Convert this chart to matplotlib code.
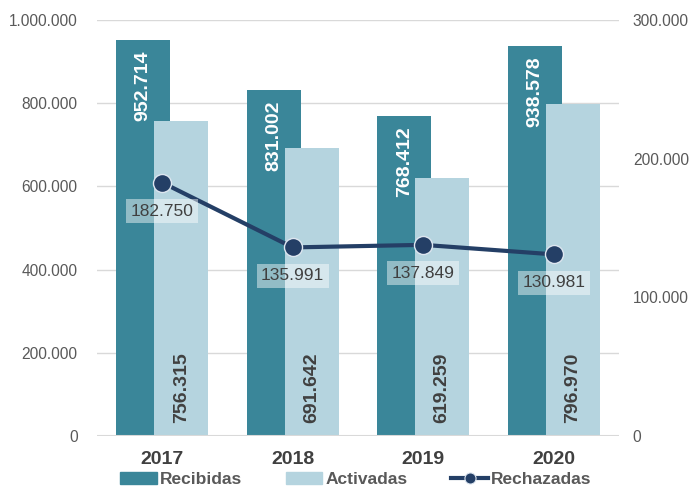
import matplotlib.pyplot as plt
from matplotlib.lines import Line2D
from matplotlib.patches import Patch
import numpy as np

plt.rcParams['font.family'] = ['Liberation Sans', 'DejaVu Sans']

# DATA
years = ['2017', '2018', '2019', '2020']
recibidas = [952714, 831002, 768412, 938578]
activadas = [756315, 691642, 619259, 796970]
rechazadas = [182750, 135991, 137849, 130981]

left_ticks = [0, 200000, 400000, 600000, 800000, 1000000]
right_ticks = [0, 100000, 200000, 300000]

c_dark = '#3A8699'
c_light = '#B5D4DF'
c_line = '#243F66'
c_text = '#595959'


def fmt(v):
    return f'{v:,}'.replace(',', '.')


fig = plt.figure(figsize=(6.94, 4.90), dpi=100)
ax = fig.add_axes([0.1398, 0.1102, 0.752, 0.849])
ax2 = ax.twinx()

x = np.arange(len(years))
w = 0.413
off = 0.145

# grid
for t in left_ticks:
    ax.axhline(t, color='#D9D9D9', lw=1, zorder=0)

ax.bar(x - off, recibidas, w, color=c_dark, zorder=2)
ax.bar(x + off, activadas, w, color=c_light, zorder=3)

for xi, v in zip(x, recibidas):
    ax.text(xi - off, v - 25000, fmt(v), rotation=90, ha='center', va='top',
            color='white', fontsize=14, fontweight='bold', zorder=4)
for xi, v in zip(x, activadas):
    ax.text(xi + off, 31000, fmt(v), rotation=90, ha='center', va='bottom',
            color='#404040', fontsize=14, fontweight='bold', zorder=4)

ax.set_xlim(-0.5, 3.5)
ax.set_ylim(0, 1000000)
ax.set_yticks(left_ticks)
ax.set_yticklabels([fmt(t) for t in left_ticks], color=c_text, fontsize=11.2)
ax.set_xticks(x)
ax.set_xticklabels(years, fontsize=14, fontweight='bold', color='#404040')
ax.tick_params(axis='both', length=0)
ax.tick_params(axis='y', pad=14)
ax.tick_params(axis='x', pad=11)
for s in ax.spines.values():
    s.set_visible(False)

ax2.plot(x, rechazadas, color=c_line, lw=3, marker='o', markersize=13,
         markeredgecolor='#DDE6F0', markeredgewidth=1, zorder=5)
for xi, v in zip(x, rechazadas):
    ax2.text(xi, v - 20500, fmt(v), ha='center', va='center', color='#404040',
             fontsize=12.5, zorder=6,
             bbox=dict(boxstyle='square,pad=0.25', fc='white', ec='none', alpha=0.45))
ax2.set_ylim(0, 300000)
ax2.set_yticks(right_ticks)
ax2.set_yticklabels([fmt(t) for t in right_ticks], color=c_text, fontsize=11.2)
ax2.tick_params(axis='y', length=0, pad=10)
for s in ax2.spines.values():
    s.set_visible(False)
ax2.axhline(0, color='#D9D9D9', lw=1.5, zorder=1)

handles = [Patch(color=c_dark), Patch(color=c_light),
           Line2D([], [], color=c_line, lw=3, marker='o', markersize=8,
                  markeredgecolor='#DDE6F0', markeredgewidth=0.8)]
leg = fig.legend(handles, ['Recibidas', 'Activadas', 'Rechazadas'], loc='lower center',
                 bbox_to_anchor=(0.513, 0.0), ncol=3, frameon=False,
                 borderaxespad=0, borderpad=0.15,
                 handlelength=2.1, columnspacing=2.5, handletextpad=0.2,
                 prop={'weight': 'bold', 'size': 12.5})
for t in leg.get_texts():
    t.set_color(c_text)

fig.savefig('out.png', dpi=100)
